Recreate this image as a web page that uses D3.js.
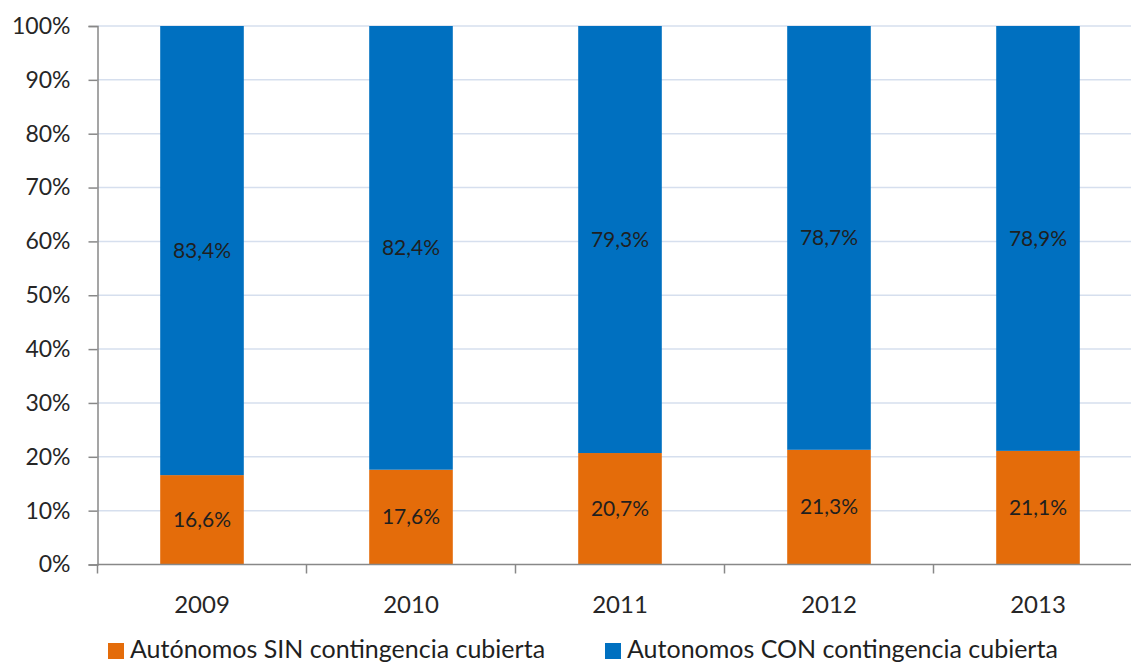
<!DOCTYPE html>
<html>
<head>
<meta charset="utf-8">
<script src="https://cdn.jsdelivr.net/npm/d3@7"></script>
<style>
    body { margin: 0; background: #fff; }
    svg { display: block; font-family: Lato, "Open Sans", sans-serif; }
</style>
</head>
<body>
<div id="chart"></div>
<script>
const years = ['2009', '2010', '2011', '2012', '2013'];
const sinValues = [16.6, 17.6, 20.7, 21.3, 21.1];
const conValues = [83.4, 82.4, 79.3, 78.7, 78.9];
const yTicks = [0, 10, 20, 30, 40, 50, 60, 70, 80, 90, 100];
const seriesNames = ['Autónomos SIN contingencia cubierta', 'Autonomos CON contingencia cubierta'];

const width = 1131;
const height = 664;
const left = 97.5;
const step = 209;

const svg = d3.select('#chart')
    .append('svg')
    .attr('width', width)
    .attr('height', height);

const x = d3.scaleBand()
    .domain(years)
    .range([left, left + step * years.length])
    .paddingInner(0.6)
    .paddingOuter(0.3);

const y = d3.scaleLinear()
    .domain([0, 100])
    .range([564.5, 26]);

const color = d3.scaleOrdinal()
    .domain(seriesNames)
    .range(['#E46C0A', '#0070C0']);

// gridlines
svg.append('g')
    .selectAll('line')
    .data(yTicks.filter(d => d > 0))
    .enter()
    .append('line')
    .attr('x1', left)
    .attr('x2', width)
    .attr('y1', d => y(d))
    .attr('y2', d => y(d))
    .attr('stroke', '#d6dfee')
    .attr('stroke-width', 1.5);

// y axis
const yAxis = svg.append('g')
    .attr('transform', `translate(${left},0)`)
    .call(d3.axisLeft(y).tickValues(yTicks).tickSize(9).tickPadding(18).tickFormat(d => d + '%'));
yAxis.select('.domain').attr('stroke', '#888').attr('stroke-width', 1.5);
yAxis.selectAll('.tick line').attr('stroke', '#888').attr('stroke-width', 1.5);
yAxis.selectAll('text').attr('font-size', 23).attr('fill', '#262626')
    .attr('font-family', 'Lato, sans-serif');

const stacked = years.map((yr, i) => ({ year: yr, sin: sinValues[i], con: conValues[i] }));

// bars
const barG = svg.append('g');
stacked.forEach(d => {
    barG.append('rect')
        .attr('x', x(d.year))
        .attr('width', x.bandwidth())
        .attr('y', y(d.sin))
        .attr('height', y(0) - y(d.sin))
        .attr('fill', color(seriesNames[0]));
    barG.append('rect')
        .attr('x', x(d.year))
        .attr('width', x.bandwidth())
        .attr('y', y(d.sin + d.con))
        .attr('height', y(d.sin) - y(d.sin + d.con))
        .attr('fill', color(seriesNames[1]));
});

// x axis
const xAxisG = svg.append('g')
    .attr('transform', `translate(0,${y(0)})`);
xAxisG.append('line')
    .attr('x1', left).attr('x2', width)
    .attr('stroke', '#888').attr('stroke-width', 1.5);
xAxisG.selectAll('.xtick')
    .data(d3.range(years.length + 1))
    .enter()
    .append('line')
    .attr('x1', i => left + i * step)
    .attr('x2', i => left + i * step)
    .attr('y1', 0).attr('y2', 9)
    .attr('stroke', '#888').attr('stroke-width', 1.5);
xAxisG.selectAll('text')
    .data(years)
    .enter()
    .append('text')
    .attr('x', d => x(d) + x.bandwidth() / 2)
    .attr('y', 48)
    .attr('text-anchor', 'middle')
    .attr('font-size', 24)
    .attr('fill', '#262626')
    .text(d => d);

// data labels
const fmt = v => v.toFixed(1).replace('.', ',') + '%';
const labelG = svg.append('g')
    .attr('font-size', 21)
    .attr('fill', '#1f1f1f')
    .attr('text-anchor', 'middle');
stacked.forEach(d => {
    labelG.append('text')
        .attr('x', x(d.year) + x.bandwidth() / 2)
        .attr('y', (y(0) + y(d.sin)) / 2)
        .attr('dy', '0.35em')
        .text(fmt(d.sin));
    labelG.append('text')
        .attr('x', x(d.year) + x.bandwidth() / 2)
        .attr('y', (y(d.sin) + y(d.sin + d.con)) / 2)
        .attr('dy', '0.35em')
        .text(fmt(d.con));
});

// legend
const legendX = [108, 605];
const legend = svg.append('g');
seriesNames.forEach((name, i) => {
    legend.append('rect')
        .attr('x', legendX[i])
        .attr('y', 643)
        .attr('width', 16)
        .attr('height', 16)
        .attr('fill', color(name));
    legend.append('text')
        .attr('x', legendX[i] + 22)
        .attr('y', 658)
        .attr('font-size', 25)
        .attr('fill', '#1f1f1f')
        .text(name);
});
</script>
</body>
</html>
